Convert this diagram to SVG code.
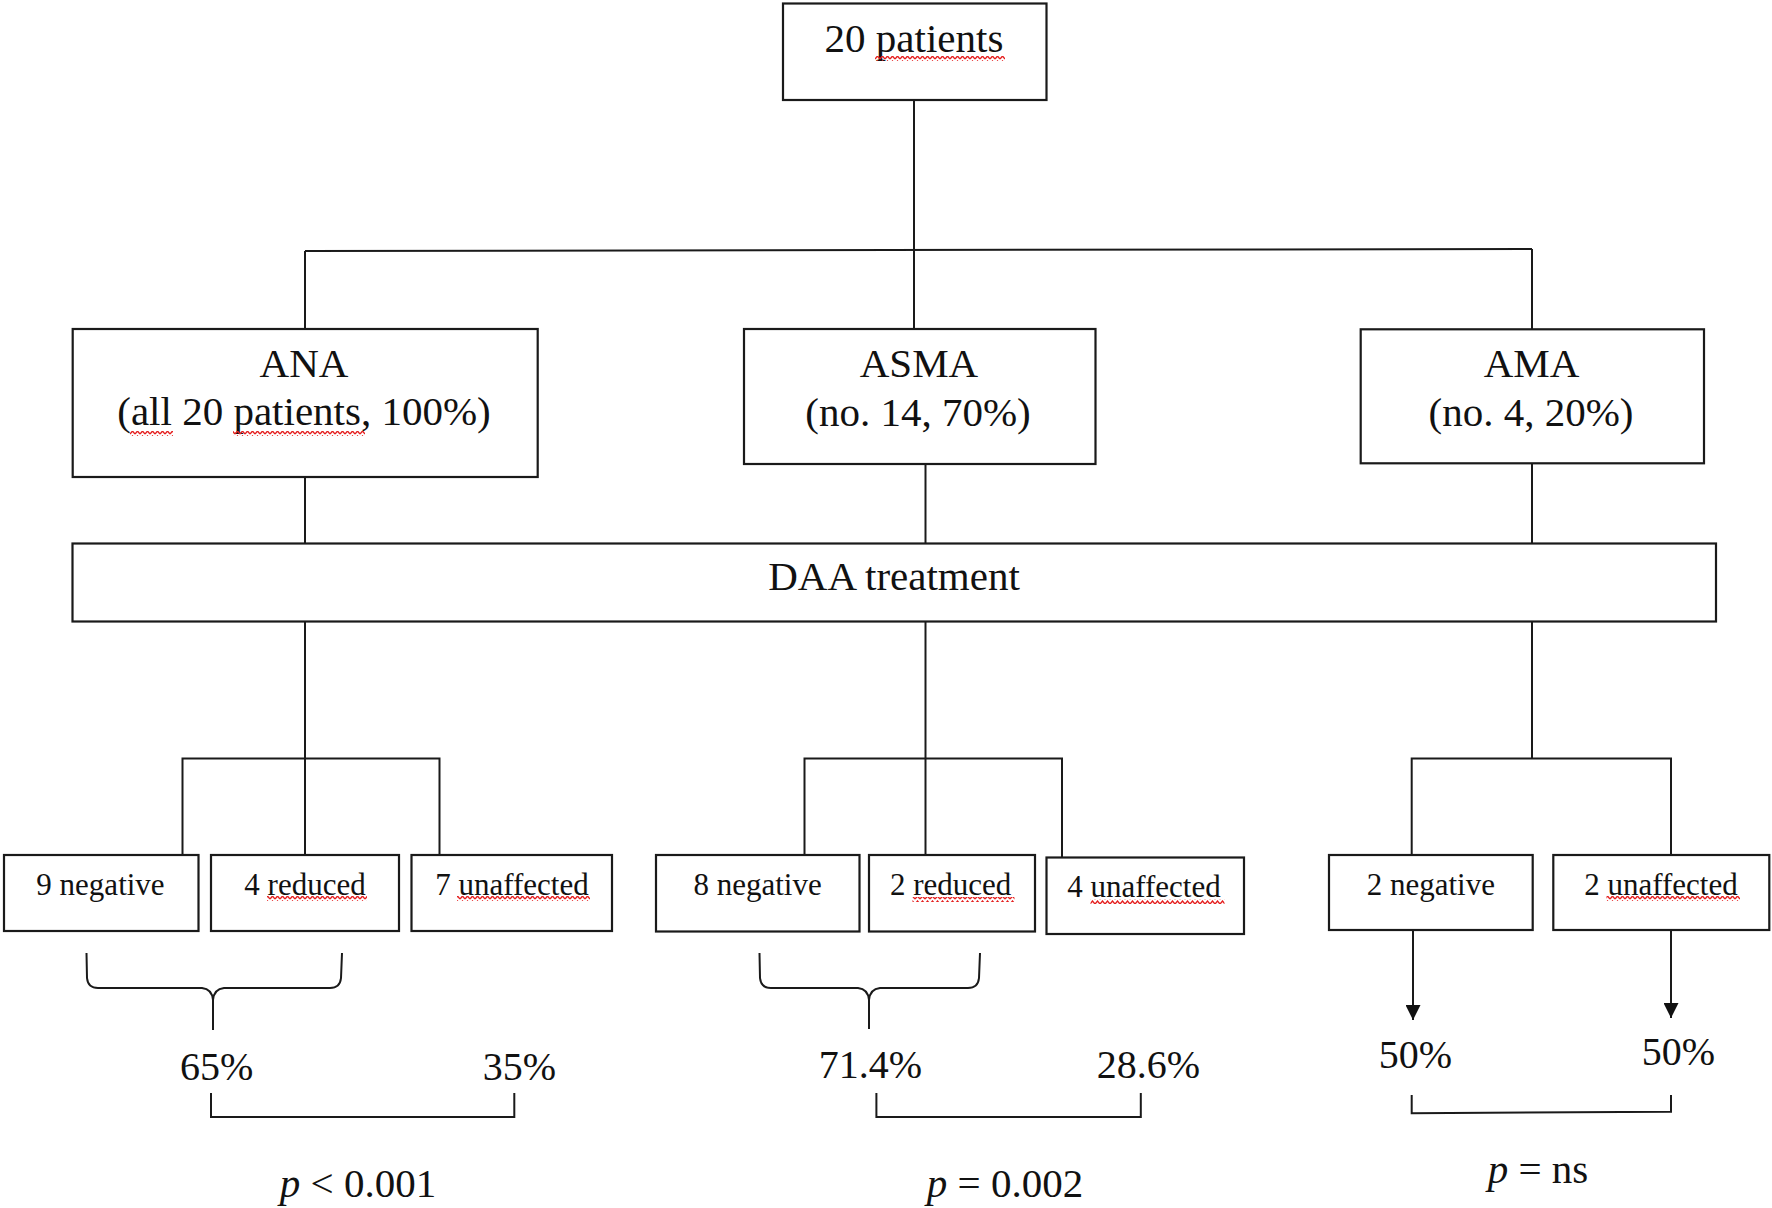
<svg xmlns="http://www.w3.org/2000/svg" width="1772" height="1208" viewBox="0 0 1772 1208">
<defs>
<style>
.box{fill:#fff;stroke:#1a1a1a;stroke-width:2.2}
.ln{fill:none;stroke:#1a1a1a;stroke-width:2}
.t{font-family:"Liberation Serif","Times New Roman",serif;fill:#111;text-anchor:middle}
.big{font-size:41px}
.sm{font-size:31px}
.pct{font-size:40px}
.sq{fill:url(#squig)}
</style>
<pattern id="squig" x="0" y="0" width="5" height="5" patternUnits="userSpaceOnUse">
<polyline points="0,4 2.5,1 5,4" fill="none" stroke="#e52020" stroke-width="1.4"/>
</pattern>
<marker id="arr" viewBox="0 0 10 10" refX="10" refY="5" markerWidth="15" markerHeight="15" markerUnits="userSpaceOnUse" orient="auto">
<path d="M0,0 L10,5 L0,10 z" fill="#111"/>
</marker>
</defs>
<rect width="1772" height="1208" fill="#fff"/>

<g id="connectors">
<line class="ln" x1="914" y1="100" x2="914" y2="329"/>
<line class="ln" x1="305" y1="251" x2="1532" y2="249"/>
<line class="ln" x1="305" y1="251" x2="305" y2="329"/>
<line class="ln" x1="1532" y1="249" x2="1532" y2="329"/>
<line class="ln" x1="305" y1="477" x2="305" y2="543.5"/>
<line class="ln" x1="925.5" y1="464" x2="925.5" y2="543.5"/>
<line class="ln" x1="1532" y1="463.3" x2="1532" y2="543.5"/>
<line class="ln" x1="305" y1="621.5" x2="305" y2="855"/>
<polyline class="ln" points="182.5,855 182.5,758.5 439.5,758.5 439.5,855"/>
<line class="ln" x1="925.5" y1="621.5" x2="925.5" y2="855"/>
<polyline class="ln" points="804.5,855 804.5,758.5 1062,758.5 1062,857.5"/>
<line class="ln" x1="1532" y1="621.5" x2="1532" y2="758.5"/>
<polyline class="ln" points="1411.7,855 1411.7,758.5 1671,758.5 1671,855"/>
<line class="ln" x1="1413" y1="930" x2="1413" y2="1020" marker-end="url(#arr)"/>
<line class="ln" x1="1671" y1="930" x2="1671" y2="1018" marker-end="url(#arr)"/>
<path class="ln" d="M86.5,953 L87,978 Q88,988 98,988 L202,988 Q212,989 213,1000 L213,1030 M342,953 L341,978 Q340,988 330,988 L224,988 Q214,989 213,1000"/>
<path class="ln" d="M759.5,953 L760,978 Q761,988 771,988 L858,988 Q868,989 869,1000 L869,1029 M980,953 L979,978 Q978,988 968,988 L880,988 Q870,989 869,1000"/>
<polyline class="ln" points="211,1093 211,1117 514.3,1117 514.3,1093"/>
<polyline class="ln" points="876.4,1093 876.4,1117 1140.8,1117 1140.8,1093"/>
<polyline class="ln" points="1411.7,1095 1411.7,1113.3 1671,1111.7 1671,1095"/>
</g>

<g id="n-patients">
<rect class="box" x="783" y="3.5" width="263.5" height="96.5"/>
<text class="t big" x="914" y="52">20 patients</text>
<rect class="sq" x="875" y="56" width="130" height="5"/>
</g>

<g id="n-ana">
<rect class="box" x="72.7" y="329" width="465" height="148"/>
<text class="t big" x="304" y="376.7">ANA</text>
<text class="t big" x="304" y="425">(all 20 patients, 100%)</text>
<rect class="sq" x="130" y="431" width="43" height="5"/>
<rect class="sq" x="233" y="431" width="132" height="5"/>
</g>

<g id="n-asma">
<rect class="box" x="744" y="329" width="351.5" height="135"/>
<text class="t big" x="919" y="376.7">ASMA</text>
<text class="t big" x="918" y="426">(no. 14, 70%)</text>
</g>

<g id="n-ama">
<rect class="box" x="1360.7" y="329.3" width="343.3" height="134"/>
<text class="t big" x="1531.5" y="376.7">AMA</text>
<text class="t big" x="1531" y="426">(no. 4, 20%)</text>
</g>

<g id="n-daa">
<rect class="box" x="72.5" y="543.5" width="1643.5" height="78"/>
<text class="t big" x="894" y="590">DAA treatment</text>
</g>

<g id="n-ana-neg">
<rect class="box" x="4" y="855" width="194.5" height="76"/>
<text class="t sm" x="100.5" y="895">9 negative</text>
</g>
<g id="n-ana-red">
<rect class="box" x="211" y="855" width="188" height="76"/>
<text class="t sm" x="305" y="895">4 reduced</text>
<rect class="sq" x="267" y="896" width="100" height="5"/>
</g>
<g id="n-ana-una">
<rect class="box" x="411.5" y="855" width="200.5" height="76"/>
<text class="t sm" x="512" y="895">7 unaffected</text>
<rect class="sq" x="457" y="896" width="133" height="5"/>
</g>

<g id="n-asma-neg">
<rect class="box" x="656" y="855" width="203.5" height="76.5"/>
<text class="t sm" x="757.6" y="895">8 negative</text>
</g>
<g id="n-asma-red">
<rect class="box" x="869" y="855" width="166" height="76.5"/>
<text class="t sm" x="950.6" y="895">2 reduced</text>
<rect class="sq" x="912.5" y="897" width="102" height="5"/>
</g>
<g id="n-asma-una">
<rect class="box" x="1046.5" y="857.5" width="197.5" height="76.5"/>
<text class="t sm" x="1144" y="897">4 unaffected</text>
<rect class="sq" x="1090.5" y="899" width="134" height="5"/>
</g>

<g id="n-ama-neg">
<rect class="box" x="1329" y="855" width="203.7" height="75"/>
<text class="t sm" x="1430.8" y="895">2 negative</text>
</g>
<g id="n-ama-una">
<rect class="box" x="1553.3" y="855" width="216" height="75"/>
<text class="t sm" x="1661" y="895">2 unaffected</text>
<rect class="sq" x="1606.5" y="896" width="133.5" height="5"/>
</g>

<g id="results">
<text class="t pct" x="216.7" y="1080">65%</text>
<text class="t pct" x="519.5" y="1080">35%</text>
<text class="t pct" x="870.3" y="1078">71.4%</text>
<text class="t pct" x="1148.3" y="1078">28.6%</text>
<text class="t pct" x="1415.3" y="1068">50%</text>
<text class="t pct" x="1678.3" y="1065">50%</text>
<text class="t big" x="358" y="1197"><tspan font-style="italic">p</tspan> &lt; 0.001</text>
<text class="t big" x="1005" y="1197"><tspan font-style="italic">p</tspan> = 0.002</text>
<text class="t big" x="1538" y="1183"><tspan font-style="italic">p</tspan> = ns</text>
</g>
</svg>
